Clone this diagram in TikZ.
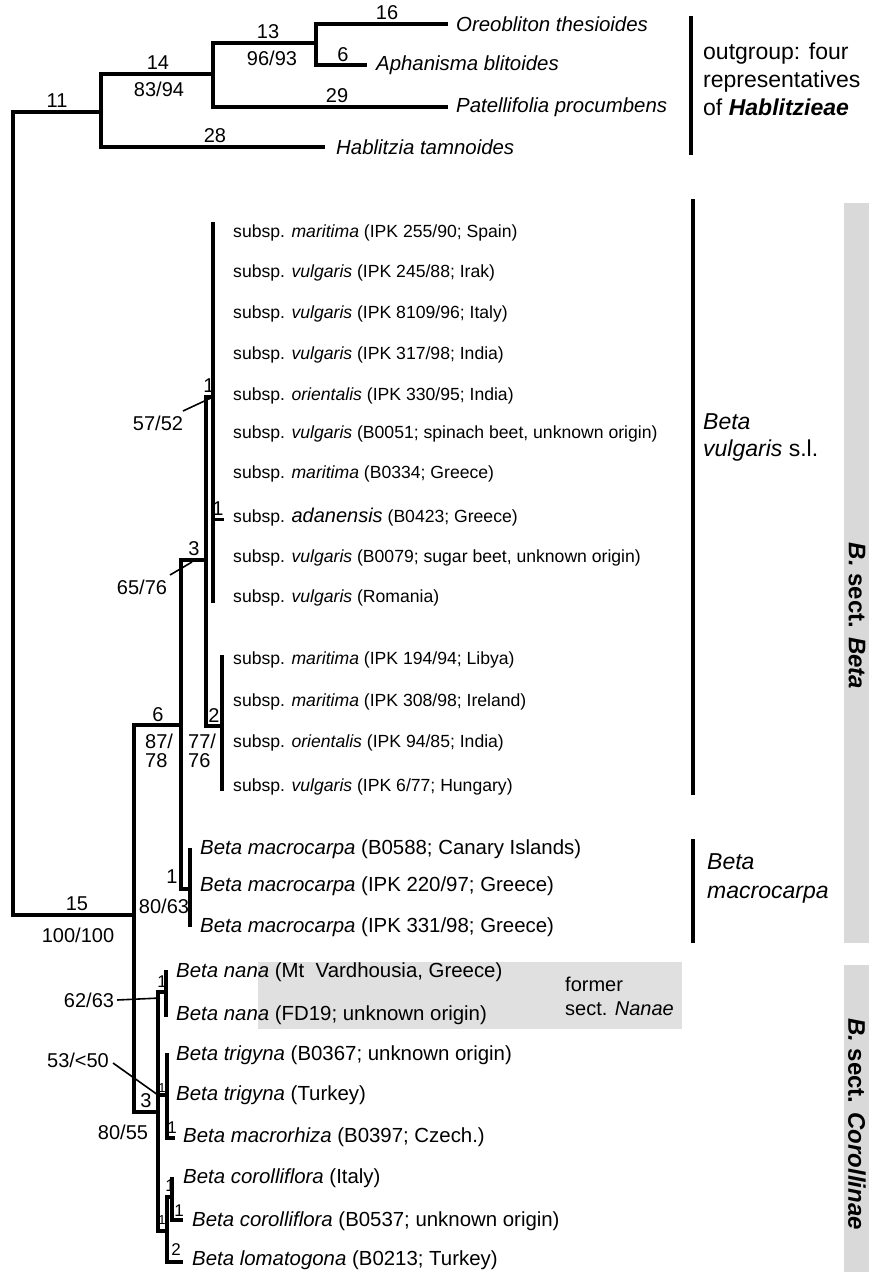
\documentclass[tikz,border=0pt]{standalone}
\usepackage{fontspec}
\setmainfont{Liberation Sans}
\begin{document}
\begin{tikzpicture}[x=1pt,y=-1pt,
  br/.style={line width=4.5pt},
  br4/.style={line width=4pt},
  brk/.style={line width=4pt},
  lead/.style={line width=1.6pt},
  tx/.style={anchor=west,inner sep=0pt,font=\fontsize{20.4}{24}\selectfont},
  sx/.style={anchor=west,inner sep=0pt,font=\fontsize{17.6}{21}\selectfont},
  num/.style={inner sep=0pt,font=\fontsize{20}{19}\selectfont,align=left},
  sm/.style={inner sep=0pt,font=\fontsize{17}{18}\selectfont},
  tn/.style={inner sep=0pt,font=\fontsize{13}{14}\selectfont},
  grp/.style={anchor=west,inner sep=0pt,align=left,font=\fontsize{23}{28}\selectfont},
  sect/.style={inner sep=0pt,rotate=-90,font=\fontsize{24}{26}\selectfont\bfseries},
]
\useasboundingbox (0,0) rectangle (869,1272);

% grey backgrounds
\fill[gray!30] (844,203) rectangle (869,943);
\fill[gray!30] (844,965) rectangle (869,1272);
\fill[black!12] (258,962) rectangle (682,1029);

% ---------- taxon labels ----------
\node[tx] (oreo) at (456,24) {\itshape Oreobliton thesioides};
\node[tx] (aph)  at (376,65) {\itshape Aphanisma blitoides};
\node[tx] (pat)  at (456,107) {\itshape Patellifolia procumbens};
\node[tx] (hab)  at (336,147) {\itshape Hablitzia tamnoides};

\node[sx] (v1)  at (233,233) {subsp. \textit{maritima} (IPK 255/90; Spain)};
\node[sx] (v2)  at (233,273) {subsp. \textit{vulgaris} (IPK 245/88; Irak)};
\node[sx] (v3)  at (233,314) {subsp. \textit{vulgaris} (IPK 8109/96; Italy)};
\node[sx] (v4)  at (233,355) {subsp. \textit{vulgaris} (IPK 317/98; India)};
\node[sx] (v5)  at (233,396) {subsp. \textit{orientalis} (IPK 330/95; India)};
\node[sx] (v6)  at (233,434) {subsp. \textit{vulgaris} (B0051; spinach beet, unknown origin)};
\node[sx] (v7)  at (233,474) {subsp. \textit{maritima} (B0334; Greece)};
\node[sx] (v8)  at (233,517) {subsp. {\fontsize{20}{20}\selectfont\itshape adanensis} (B0423; Greece)};
\node[sx] (v9)  at (233,558) {subsp. \textit{vulgaris} (B0079; sugar beet, unknown origin)};
\node[sx] (v10) at (233,598) {subsp. \textit{vulgaris} (Romania)};
\node[sx] (v11) at (233,660) {subsp. \textit{maritima} (IPK 194/94; Libya)};
\node[sx] (v12) at (233,702) {subsp. \textit{maritima} (IPK 308/98; Ireland)};
\node[sx] (v13) at (233,743) {subsp. \textit{orientalis} (IPK 94/85; India)};
\node[sx] (v14) at (233,787) {subsp. \textit{vulgaris} (IPK 6/77; Hungary)};

\node[tx] (m1) at (200,849) {\textit{Beta macrocarpa} (B0588; Canary Islands)};
\node[tx] (m2) at (200,886) {\textit{Beta macrocarpa} (IPK 220/97; Greece)};
\node[tx] (m3) at (200,927) {\textit{Beta macrocarpa} (IPK 331/98; Greece)};

\node[tx] (c1) at (176,972)  {\textit{Beta nana} (Mt\ \ Vardhousia, Greece)};
\node[tx] (c2) at (176,1015) {\textit{Beta nana} (FD19; unknown origin)};
\node[tx] (c3) at (176,1055) {\textit{Beta trigyna} (B0367; unknown origin)};
\node[tx] (c4) at (176,1095) {\textit{Beta trigyna} (Turkey)};
\node[tx] (c5) at (183,1137) {\textit{Beta macrorhiza} (B0397; Czech.)};
\node[tx] (c6) at (183,1178) {\textit{Beta corolliflora} (Italy)};
\node[tx] (c7) at (192,1221) {\textit{Beta corolliflora} (B0537; unknown origin)};
\node[tx] (c8) at (192,1260) {\textit{Beta lomatogona} (B0213; Turkey)};

% ---------- internal nodes ----------
\coordinate (rootB) at (13,915);
\coordinate (nA) at (101,112);
\coordinate (nB) at (213,74);
\coordinate (nC) at (316,43);
\coordinate (nD) at (134,915);
\coordinate (nE) at (181,725);
\coordinate (nF) at (190,889);
\coordinate (fT) at (190,848);
\coordinate (fB) at (190,927);
\coordinate (nG) at (206,560);
\coordinate (nH) at (213,397);
\coordinate (hT) at (213,222);
\coordinate (hB) at (213,603);
\coordinate (adaE) at (224,519);
\coordinate (nI) at (222,726);
\coordinate (iT) at (222,655);
\coordinate (iB) at (222,791);
\coordinate (nJ) at (158,1112);
\coordinate (nK) at (166,992);
\coordinate (kT) at (166,970);
\coordinate (kB) at (166,1017);
\coordinate (nL) at (167,1095);
\coordinate (lT) at (167,1053);
\coordinate (lE) at (175,1138);
\coordinate (nM) at (167,1231);
\coordinate (nN) at (172,1197);
\coordinate (nT) at (172,1177);
\coordinate (nE2) at (183,1220);
\coordinate (lomE) at (183,1262);

% ---------- branches ----------
\draw[br] (nA) -| (rootB) -- (nD);
\draw[br] (nB) -| (nA) |- ([xshift=-11pt]hab.west);
\draw[br] (nC) -| (nB) |- ([xshift=-8pt]pat.west);
\draw[br] ([xshift=-8pt]oreo.west) -| (nC) |- ([xshift=-9pt]aph.west);

\draw[br] (nE) -| (nD) |- (nJ);
\draw[br] (nG) -| (nE) |- (nF);
\draw[br4] (fT) -- (fB);
\draw[br] (nH) -| (nG) |- (nI);
\draw[br4] (hT) -- (hB);
\draw[line width=3pt] (hT |- adaE) -- (adaE);
\draw[br] (iT) -- (iB);

\draw[br4] (nK) -| (nJ) |- (nM);
\draw[br4] (nJ |- nL) -- (nL);
\draw[br4] (kT) -- (kB);
\draw[br4] (lT) |- (lE);
\draw[br4] (nN) -| (nM) |- (lomE);
\draw[br4] (nT) |- (nE2);

% ---------- branch labels ----------
\node[num] (b11) at (57,101) {11};
\node[num] (b14) at (158,63) {14};
\node[num] (s14) at (159,89) {83/94};
\node[num] (b13) at (268,32) {13};
\node[num] (s13) at (272,58) {96/93};
\node[num] (b16) at (387,13) {16};
\node[num] (b6o) at (343,55) {6};
\node[num] (b29) at (337,96) {29};
\node[num] (b28) at (215,136) {28};
\node[num] (b15) at (77,904) {15};
\node[num] (s15) at (78,935) {100/100};
\node[num] (b6) at (158,715) {6};
\node[num,anchor=west] (s6) at (145,751) {87/\\78};
\node[num,anchor=west] (s2) at (188,751) {77/\\76};
\node[num] (b2) at (214,716) {2};
\node[num] (b3) at (194,549) {3};
\node[num] (s3) at (142,587) {65/76};
\node[num] (b1g) at (209,386) {1};
\node[num] (s1g) at (158,423) {57/52};
\node[num] (b1a) at (218,509) {1};
\node[num] (b1m) at (172,877) {1};
\node[num] (s1m) at (164,906) {80/63};
\node[num] (b3c) at (146,1101) {3};
\node[num] (s3c) at (123,1132) {80/55};
\node[num] (s1k) at (89,1000) {62/63};
\node[num] (s1l) at (78,1060) {53/<50};
\node[sm] (b1k) at (162,982) {1};
\node[tn] (b1l) at (162,1088) {1};
\node[sm] (b1r) at (172,1128) {1};
\node[sm] (b1n) at (170,1186) {1};
\node[sm] (b1c) at (179,1211) {1};
\node[tn] (b1j) at (162,1220) {1};
\node[sm] (b2l) at (176,1250) {2};

% leaders
\draw[lead] (183,411) -- (nH);
\draw[lead] (170,575) -- (192,562);
\draw[lead] (s1k.east) ++(3pt,0) -- (160,998);
\draw[lead] (113,1063) -- (nJ |- nL);

% ---------- group brackets ----------
\coordinate (g1T) at (691,16);  \coordinate (g1B) at (691,155);
\coordinate (g2T) at (693,199); \coordinate (g2B) at (693,795);
\coordinate (g3T) at (693,839); \coordinate (g3B) at (693,943);
\draw[brk] (g1T) -- (g1B);
\draw[brk] (g2T) -- (g2B);
\draw[brk] (g3T) -- (g3B);

\node[grp] (out) at (703,79) {outgroup: four\\representatives\\of \textbf{\textit{Hablitzieae}}};
\node[grp,font=\fontsize{23}{27}\selectfont] (bvul) at (703,437) {\textit{Beta}\\\textit{vulgaris} s.l.};
\node[grp,font=\fontsize{23}{29}\selectfont] (bmac) at (707,878) {\textit{Beta}\\\textit{macrocarpa}};
\node[anchor=west,inner sep=0pt,align=left,font=\fontsize{20}{24}\selectfont] (nan) at (565,996) {former\\sect. \textit{Nanae}};

\node[sect] (sb) at (857,616) {\textit{B.} sect. \textit{Beta}};
\node[sect] (sc) at (857,1124) {\textit{B.} sect. \textit{Corollinae}};
\end{tikzpicture}
\end{document}
